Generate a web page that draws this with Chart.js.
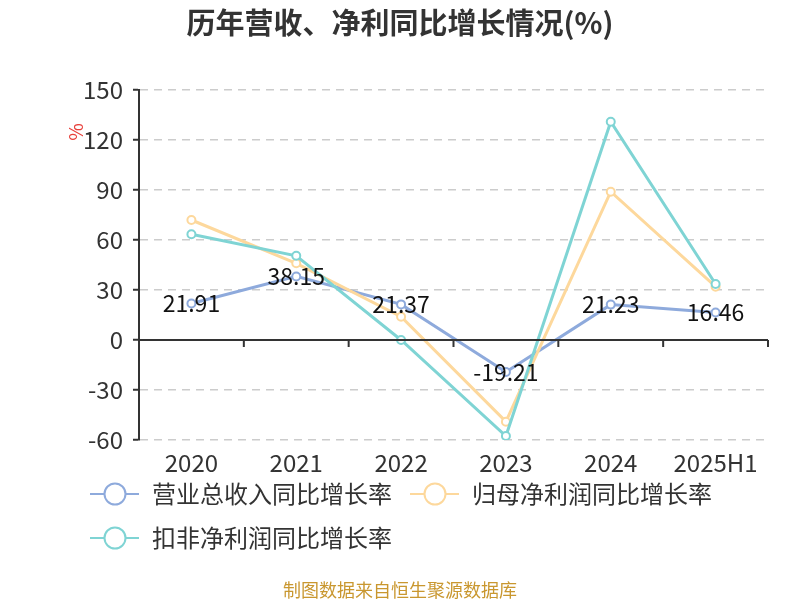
<!DOCTYPE html>
<html><head><meta charset="utf-8">
<script src="https://cdn.jsdelivr.net/npm/chart.js@4.4.1/dist/chart.umd.min.js"></script>
<style>html,body{margin:0;padding:0;background:#fff}#wrap{position:relative;width:800px;height:600px}</style>
</head><body><div id="wrap"><canvas id="c" width="800" height="600"></canvas></div>
<script>
const categories = ['2020','2021','2022','2023','2024','2025H1'];
const revenueGrowth = [21.91, 38.15, 21.37, -19.21, 21.23, 16.46];
const netProfitGrowth = [72, 46, 14, -49, 89, 32];
const deductedProfitGrowth = [63.5, 50.5, 0, -57.6, 131, 33.6];
const yMin = -60, yMax = 150, yStep = 30;
const seriesNames = ['营业总收入同比增长率','归母净利润同比增长率','扣非净利润同比增长率'];
const seriesColors = ['#8eaadc','#fdd89c','#7fd4d4'];
const titleText = '历年营收、净利同比增长情况(%)';
const unitText = '%';
const footerText = '制图数据来自恒生聚源数据库';

const FONT = '"Noto Sans CJK SC", "Noto Sans", sans-serif';

const extras = {
  id: 'extras',
  afterDatasetsDraw(chart) {
    const ctx = chart.ctx;
    const xs = chart.scales.x, ys = chart.scales.y;
    const y0 = ys.getPixelForValue(0);
    ctx.save();
    ctx.strokeStyle = '#333';
    ctx.lineWidth = 2;
    ctx.beginPath();
    ctx.moveTo(xs.left, y0); ctx.lineTo(xs.right, y0);
    const n = categories.length;
    for (let i = 1; i <= n; i++) {
      const x = xs.left + i * (xs.width / n);
      ctx.moveTo(x, y0); ctx.lineTo(x, y0 + 7);
    }
    ctx.stroke();
    const meta = chart.getDatasetMeta(0);
    ctx.fillStyle = '#111';
    ctx.font = '23px ' + FONT;
    ctx.textAlign = 'center';
    ctx.textBaseline = 'middle';
    meta.data.forEach((pt, i) => {
      ctx.fillText(revenueGrowth[i].toFixed(2), pt.x, pt.y);
    });
    ctx.restore();
  },
  afterDraw(chart) {
    const ctx = chart.ctx;
    ctx.save();
    ctx.fillStyle = '#333';
    ctx.font = 'bold 29px ' + FONT;
    ctx.textAlign = 'center';
    ctx.textBaseline = 'middle';
    ctx.fillText(titleText, 400, 23);
    ctx.save();
    ctx.translate(76, 132);
    ctx.rotate(-Math.PI / 2);
    ctx.fillStyle = '#e8413c';
    ctx.font = '19px ' + FONT;
    ctx.fillText(unitText, 0, 0);
    ctx.restore();
    const pos = [[90, 494], [410, 494], [90, 538]];
    seriesNames.forEach((name, i) => {
      const [x, y] = pos[i];
      ctx.strokeStyle = seriesColors[i];
      ctx.lineWidth = 2;
      ctx.beginPath(); ctx.moveTo(x, y); ctx.lineTo(x + 49, y); ctx.stroke();
      ctx.beginPath(); ctx.arc(x + 25, y, 10.5, 0, Math.PI * 2);
      ctx.fillStyle = '#fff'; ctx.fill(); ctx.stroke();
      ctx.fillStyle = '#333';
      ctx.font = '24px ' + FONT;
      ctx.textAlign = 'left';
      ctx.fillText(name, x + 62, y);
    });
    ctx.fillStyle = '#c9972f';
    ctx.font = '18px ' + FONT;
    ctx.textAlign = 'center';
    ctx.fillText(footerText, 400, 590);
    ctx.restore();
  }
};

const mkDs = (label, data, color, order) => ({
  label, data, borderColor: color, backgroundColor: color,
  borderWidth: 3, pointRadius: 4, pointHoverRadius: 4,
  pointBackgroundColor: '#fff', pointBorderColor: color, pointBorderWidth: 2,
  tension: 0, fill: false, order
});

new Chart(document.getElementById('c'), {
  type: 'line',
  data: {
    labels: categories,
    datasets: [
      mkDs(seriesNames[0], revenueGrowth, seriesColors[0], 2),
      mkDs(seriesNames[1], netProfitGrowth, seriesColors[1], 1),
      mkDs(seriesNames[2], deductedProfitGrowth, seriesColors[2], 0)
    ]
  },
  options: {
    responsive: false,
    animation: false,
    devicePixelRatio: 1,
    layout: { padding: { top: 90, right: 32, bottom: 120, left: 0 } },
    plugins: { legend: { display: false }, title: { display: false }, tooltip: { enabled: false } },
    scales: {
      x: {
        offset: true,
        grid: { display: false, drawTicks: false },
        border: { display: false },
        ticks: { color: '#333', font: { size: 24, family: FONT }, padding: 8, maxRotation: 0, autoSkip: false },
        afterFit: s => { s.height = 40; }
      },
      y: {
        min: yMin, max: yMax,
        ticks: { stepSize: yStep, color: '#333', font: { size: 24, family: FONT }, padding: 10 },
        grid: {
          color: c => (c.tick && c.tick.value === 0) ? 'rgba(0,0,0,0)' : '#cccccc',
          lineWidth: 1.5, tickColor: '#333', tickLength: 6, tickWidth: 2
        },
        border: { display: true, color: '#333', width: 2, dash: [8, 6] },
        afterFit: s => { s.width = 139; }
      }
    }
  },
  plugins: [extras]
});
</script>
</body></html>
